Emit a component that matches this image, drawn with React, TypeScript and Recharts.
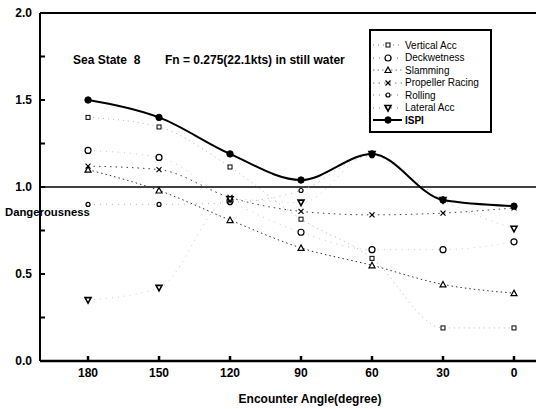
import React from 'react';
import { LineChart, Line, XAxis, YAxis, ReferenceLine, Legend } from 'recharts';

const FONT = '"Liberation Sans", Arial, sans-serif';

// encounter angles (degree), x axis runs from 180 down to 0
const angles = [180, 150, 120, 90, 60, 30, 0];

// dangerousness index for each criterion
const verticalAcc = [1.4, 1.345, 1.115, 0.815, 0.59, 0.19, 0.19];
const deckwetness = [1.21, 1.17, 0.92, 0.74, 0.64, 0.64, 0.685];
const slamming = [1.1, 0.98, 0.81, 0.65, 0.55, 0.44, 0.39];
const propellerRacing = [1.12, 1.1, 0.94, 0.86, 0.84, 0.85, 0.88];
const rolling = [0.9, 0.9, 0.91, 0.98, 1.18, 0.93, 0.89];
const lateralAcc = [0.35, 0.42, 0.93, 0.91, 1.19, 0.925, 0.76];
const ispi = [1.5, 1.4, 1.19, 1.04, 1.19, 0.925, 0.89];

const yTicks = [0, 0.25, 0.5, 0.75, 1, 1.25, 1.5, 1.75, 2];
const xTicks = [180, 150, 120, 90, 60, 30, 0];

const data = angles.map((angle, i) => ({
  angle,
  verticalAcc: verticalAcc[i],
  deckwetness: deckwetness[i],
  slamming: slamming[i],
  propellerRacing: propellerRacing[i],
  rolling: rolling[i],
  lateralAcc: lateralAcc[i],
  ispi: ispi[i],
}));

type MarkerKind = 'square' | 'circle' | 'triangle' | 'cross' | 'small' | 'down' | 'filled';

const series: { key: string; name: string; marker: MarkerKind; stroke: string; dash?: string; width: number }[] = [
  { key: 'verticalAcc', name: 'Vertical Acc', marker: 'square', stroke: '#b5b5b5', dash: '1 4', width: 1 },
  { key: 'deckwetness', name: 'Deckwetness', marker: 'circle', stroke: '#c8c8c8', dash: '1 5', width: 1 },
  { key: 'slamming', name: 'Slamming', marker: 'triangle', stroke: '#333', dash: '1.5 3', width: 1 },
  { key: 'propellerRacing', name: 'Propeller Racing', marker: 'cross', stroke: '#444', dash: '1.5 4', width: 1 },
  { key: 'rolling', name: 'Rolling', marker: 'small', stroke: '#b5b5b5', dash: '1 5', width: 1 },
  { key: 'lateralAcc', name: 'Lateral Acc', marker: 'down', stroke: '#c8c8c8', dash: '1 5', width: 1 },
  { key: 'ispi', name: 'ISPI', marker: 'filled', stroke: '#000', width: 2 },
];

const marker = (kind: MarkerKind, cx: number, cy: number, key?: string) => {
  switch (kind) {
    case 'square':
      return <rect key={key} x={cx - 2} y={cy - 2} width={4} height={4} fill="#fff" stroke="#000" strokeWidth={1} />;
    case 'circle':
      return <circle key={key} cx={cx} cy={cy} r={3} fill="#fff" stroke="#000" strokeWidth={1.2} />;
    case 'triangle':
      return (
        <polygon key={key} points={`${cx},${cy - 3} ${cx + 3},${cy + 2.5} ${cx - 3},${cy + 2.5}`}
          fill="#fff" stroke="#000" strokeWidth={1.2} />
      );
    case 'cross':
      return (
        <g key={key} stroke="#000" strokeWidth={1.2}>
          <line x1={cx - 2.5} y1={cy - 2.5} x2={cx + 2.5} y2={cy + 2.5} />
          <line x1={cx - 2.5} y1={cy + 2.5} x2={cx + 2.5} y2={cy - 2.5} />
        </g>
      );
    case 'small':
      return <circle key={key} cx={cx} cy={cy} r={2} fill="#fff" stroke="#000" strokeWidth={1.2} />;
    case 'down':
      return (
        <polygon key={key} points={`${cx - 3},${cy - 2.5} ${cx + 3},${cy - 2.5} ${cx},${cy + 3}`}
          fill="#fff" stroke="#000" strokeWidth={1.6} />
      );
    default:
      return <circle key={key} cx={cx} cy={cy} r={3.2} fill="#000" stroke="#000" />;
  }
};

const LegendBox = () => (
  <div
    style={{
      border: '2px solid #000',
      background: '#fff',
      width: 123,
      height: 104,
      boxSizing: 'border-box',
      paddingTop: 8,
      fontFamily: FONT,
    }}
  >
    {series.map((s) => (
      <div key={s.key} style={{ display: 'flex', alignItems: 'center', height: 12.5 }}>
        <svg width={33} height={12} style={{ flex: 'none' }}>
          <line x1={2} x2={31} y1={6} y2={6} stroke={s.key === 'ispi' ? '#000' : '#777'}
            strokeWidth={s.width} strokeDasharray={s.dash} />
          {marker(s.marker, 17, 6)}
        </svg>
        <span style={{ fontSize: 10, marginLeft: 1, fontWeight: s.key === 'ispi' ? 700 : 400, whiteSpace: 'nowrap' }}>
          {s.name}
        </span>
      </div>
    ))}
  </div>
);

const noteStyle: React.CSSProperties = {
  position: 'absolute',
  top: 53,
  fontFamily: FONT,
  fontSize: 12,
  fontWeight: 700,
  whiteSpace: 'pre',
  color: '#000',
};

export default function App() {
  return (
    <div style={{ position: 'absolute', left: 0, top: 0, width: 536, height: 409, background: '#fff' }}>
      <LineChart width={536} height={409} data={data} margin={{ top: 13, right: 0, left: 0, bottom: 0 }}>
        <XAxis
          dataKey="angle"
          type="number"
          domain={[-9.3, 200.3]}
          reversed
          ticks={xTicks}
          allowDataOverflow
          height={48}
          stroke="#000"
          strokeWidth={2.5}
          tickSize={-5}
          tickMargin={12}
          tick={{ fill: '#000', fontSize: 12, fontWeight: 700, fontFamily: FONT }}
          label={{
            value: 'Encounter Angle(degree)',
            position: 'insideBottom',
            offset: 6,
            dx: 22,
            style: { fill: '#000', fontSize: 12, fontWeight: 700, fontFamily: FONT },
          }}
        />
        <YAxis
          domain={[0, 2]}
          ticks={yTicks}
          width={40}
          stroke="#000"
          strokeWidth={2}
          tickSize={-5}
          tickMargin={13}
          tickFormatter={(v: number) => (v % 0.5 === 0 ? v.toFixed(1) : '')}
          tick={{ fill: '#000', fontSize: 12, fontWeight: 700, fontFamily: FONT }}
          label={{
            value: 'Dangerousness',
            position: 'insideLeft',
            offset: 5,
            dy: 25,
            style: { fill: '#000', fontSize: 11.3, fontWeight: 700, fontFamily: FONT, textAnchor: 'start' },
          }}
        />
        <ReferenceLine y={2} stroke="#000" strokeWidth={2} />
        <ReferenceLine y={1} stroke="#000" strokeWidth={1.6} />
        {series.map((s) => (
          <Line
            key={s.key}
            dataKey={s.key}
            name={s.name}
            type="monotone"
            stroke={s.stroke}
            strokeWidth={s.width}
            strokeDasharray={s.dash}
            isAnimationActive={false}
            dot={(p: any) => marker(s.marker, p.cx, p.cy, `${s.key}-${p.index}`)}
            activeDot={false}
          />
        ))}
        <Legend
          layout="vertical"
          align="center"
          verticalAlign="middle"
          content={<LegendBox />}
          wrapperStyle={{ top: 29, left: 369, width: 123, height: 104 }}
        />
      </LineChart>
      <div style={{ ...noteStyle, left: 73 }}>{'Sea State  8'}</div>
      <div style={{ ...noteStyle, left: 165 }}>{'Fn = 0.275(22.1kts) in still water'}</div>
    </div>
  );
}
